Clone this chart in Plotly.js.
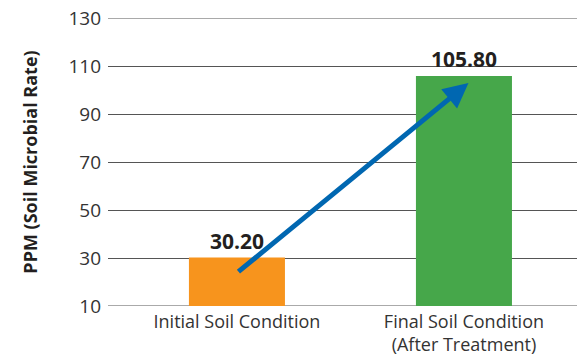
<!DOCTYPE html>
<html>
<head>
<meta charset="utf-8">
<script src="https://cdn.plot.ly/plotly-3.0.1.min.js"></script>
<style>
  html, body { margin: 0; padding: 0; background: #ffffff; }
  #chart { width: 577px; height: 359px; }
</style>
</head>
<body>
<div id="chart"></div>
<script>
// Soil microbial rate before and after treatment
const categories = ["Initial Soil Condition", "Final Soil Condition<br>(After Treatment)"];
const ppmValues = [30.20, 105.80];
const barColors = ["#f7941d", "#46a74a"];
const yTicks = [10, 30, 50, 70, 90, 110, 130];
const yRange = [10, 130];

// Trend arrow: from inside the first bar up to the top of the second
const arrowFrom = { x: 0, y: 23.8 };
const arrowTo = { x: 1.02, y: 102.9 };

const textColor = "#231f20";
const gridColor = "#555555";
const fontFamily = "'Open Sans', 'DejaVu Sans', sans-serif";

const trace = {
  type: "bar",
  x: [0, 1],
  y: ppmValues,
  width: 0.423,
  marker: { color: barColors, line: { width: 0 } },
  text: ppmValues.map(v => v.toFixed(2)),
  textposition: "outside",
  textfont: { family: fontFamily, size: 21, color: textColor, weight: 700 },
  cliponaxis: false,
  hoverinfo: "skip"
};

// Grid lines on the range ends are drawn as shapes so they sit on the plot edges
const edgeLines = yRange.map(v => ({
  type: "line", xref: "paper", yref: "y",
  x0: 0, x1: 1, y0: v, y1: v,
  line: { color: gridColor, width: 1 },
  layer: "below"
}));

const layout = {
  width: 577,
  height: 359,
  margin: { l: 108, r: 0, t: 18, b: 53 },
  paper_bgcolor: "#ffffff",
  plot_bgcolor: "rgba(0,0,0,0)",
  showlegend: false,
  font: { family: fontFamily, color: textColor },
  xaxis: {
    range: [-0.568, 1.498],
    tickmode: "array",
    tickvals: [0, 1],
    ticktext: categories,
    showgrid: false,
    zeroline: false,
    showline: false,
    ticks: "",
    ticklabelstandoff: 3,
    tickfont: { family: fontFamily, size: 18, color: "#333333" },
    fixedrange: true
  },
  yaxis: {
    range: yRange,
    tickmode: "array",
    tickvals: yTicks,
    ticktext: yTicks.map(String),
    showgrid: true,
    gridcolor: gridColor,
    gridwidth: 1,
    zeroline: false,
    showline: false,
    ticks: "",
    ticklabelstandoff: 6,
    tickfont: { family: fontFamily, size: 19, color: "#333333" },
    title: {
      text: "PPM (Soil Microbial Rate)",
      font: { family: fontFamily, size: 18, color: textColor, weight: 700 },
      standoff: 26
    },
    fixedrange: true
  },
  shapes: edgeLines,
  annotations: [{
    x: arrowTo.x, y: arrowTo.y, xref: "x", yref: "y",
    ax: arrowFrom.x, ay: arrowFrom.y, axref: "x", ayref: "y",
    text: "",
    showarrow: true,
    arrowhead: 2,
    arrowsize: 1,
    arrowwidth: 5,
    arrowcolor: "#0067b1",
    standoff: 0,
    startstandoff: 0
  }]
};

Plotly.newPlot("chart", [trace], layout, { displayModeBar: false, staticPlot: true });
</script>
</body>
</html>
